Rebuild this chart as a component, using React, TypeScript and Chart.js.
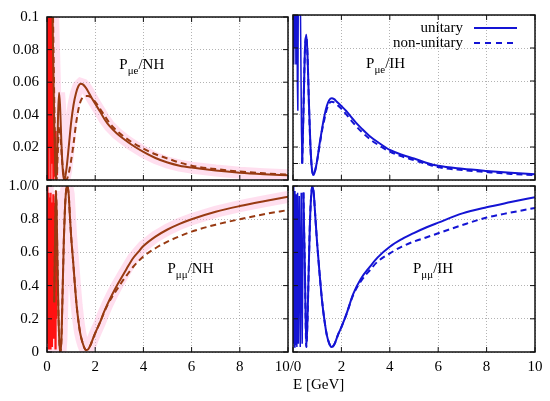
import React, { useEffect, useRef } from "react";
import { Chart, registerables } from "chart.js";

Chart.register(...registerables);

type Pt = [number, number];

// ---------- axis ticks ----------
const xTicks = [0, 2, 4, 6, 8, 10];
const xLabelsLeft = ["0", "2", "4", "6", "8", "10/0"];
const xLabelsRight = ["", "2", "4", "6", "8", "10"];
const yTicksTop = [0, 0.02, 0.04, 0.06, 0.08, 0.1];
const yTicksTopRight = [0, 0.01, 0.02, 0.04, 0.06, 0.08, 0.1];
const yLabelsTop = ["", "0.02", "0.04", "0.06", "0.08", "0.1"];
const yTicksBottom = [0, 0.2, 0.4, 0.6, 0.8, 1];
const yLabelsBottom = ["0", "0.2", "0.4", "0.6", "0.8", "1.0/0"];
const legendNames = ["unitary", "non-unitary"];

// ---------- P(mu->e), NH ----------
const peNhFast: Pt[] = [[0.0,0.0],[0.02,0.13],[0.04,0.01],[0.06,0.15],[0.08,0.0],[0.1,0.14],[0.12,0.02],[0.14,0.15],[0.16,0.0],[0.18,0.13],[0.2,0.01],[0.22,0.12],[0.25,0.0],[0.28,0.05],[0.31,0.002],[0.34,0.03],[0.37,0.0],[0.4,0.02],[0.43,0.003]];
const peNhUnitary: Pt[] = [[0.2,0.13],[0.25,0.08],[0.3,0.035],[0.34,0.008],[0.38,0.0],[0.42,0.014],[0.46,0.04],[0.5,0.0535],[0.54,0.046],[0.6,0.022],[0.66,0.005],[0.72,0.0],[0.8,0.006],[0.9,0.02],[1.0,0.035],[1.1,0.046],[1.2,0.053],[1.3,0.0575],[1.4,0.059],[1.5,0.0585],[1.6,0.0568],[1.7,0.0545],[1.85,0.0505],[2.0,0.0468],[2.2,0.042],[2.4,0.037],[2.6,0.033],[2.9,0.0285],[3.2,0.025],[3.5,0.0218],[4.0,0.0172],[4.5,0.0135],[5.0,0.0107],[5.5,0.0088],[6.0,0.0076],[7.0,0.0058],[8.0,0.0045],[9.0,0.0036],[10.0,0.0029]];
const peNhNonUnitary: Pt[] = [[0.25,0.1],[0.3,0.05],[0.35,0.012],[0.4,0.0],[0.45,0.018],[0.5,0.033],[0.55,0.03],[0.62,0.013],[0.7,0.003],[0.8,0.0],[0.9,0.004],[1.0,0.012],[1.1,0.022],[1.2,0.034],[1.3,0.043],[1.4,0.0485],[1.5,0.0508],[1.6,0.0515],[1.7,0.0515],[1.8,0.051],[1.9,0.0495],[2.0,0.048],[2.2,0.0437],[2.4,0.0392],[2.6,0.0348],[2.9,0.0302],[3.2,0.0265],[3.5,0.0234],[4.0,0.0193],[4.5,0.0158],[5.0,0.0132],[5.5,0.0107],[6.0,0.0088],[7.0,0.0067],[8.0,0.0052],[9.0,0.0041],[10.0,0.0033]];

// ---------- P(mu->e), IH ----------
const peIhFast: Pt[] = [[0.0,0.1],[0.02,0.16],[0.04,0.07],[0.06,0.16],[0.08,0.08],[0.1,0.16],[0.12,0.07],[0.15,0.16],[0.18,0.06],[0.2,0.042],[0.23,0.15],[0.27,0.16],[0.31,0.1],[0.35,0.03],[0.38,0.01]];
const peIhUnitary: Pt[] = [[0.38,0.01],[0.43,0.04],[0.49,0.078],[0.55,0.088],[0.6,0.076],[0.66,0.046],[0.72,0.021],[0.78,0.007],[0.85,0.003],[0.92,0.006],[1.0,0.012],[1.1,0.022],[1.2,0.031],[1.3,0.039],[1.4,0.045],[1.5,0.0485],[1.6,0.0495],[1.7,0.049],[1.8,0.0476],[1.9,0.0462],[2.0,0.0448],[2.2,0.0418],[2.4,0.0382],[2.6,0.0348],[2.85,0.031],[3.2,0.0262],[3.5,0.023],[4.0,0.0182],[4.5,0.0153],[5.0,0.013],[5.5,0.0105],[6.0,0.0086],[7.0,0.0068],[8.0,0.0055],[9.0,0.0044],[10.0,0.0035]];
const peIhNonUnitary: Pt[] = [[0.38,0.01],[0.43,0.04],[0.49,0.077],[0.55,0.087],[0.6,0.075],[0.66,0.045],[0.72,0.02],[0.78,0.007],[0.85,0.003],[0.92,0.006],[1.0,0.012],[1.1,0.021],[1.2,0.03],[1.3,0.037],[1.4,0.043],[1.5,0.0465],[1.6,0.0475],[1.7,0.047],[1.8,0.0458],[1.9,0.0445],[2.0,0.0432],[2.2,0.0398],[2.4,0.0362],[2.6,0.0328],[2.85,0.029],[3.2,0.0245],[3.5,0.0215],[4.0,0.0172],[4.5,0.0143],[5.0,0.012],[5.5,0.0098],[6.0,0.0078],[7.0,0.006],[8.0,0.0048],[9.0,0.0037],[10.0,0.0029]];

// ---------- P(mu->mu), NH ----------
const pmNhFast: Pt[] = [[0.0,1.0],[0.02,0.05],[0.04,0.92],[0.06,0.02],[0.08,0.96],[0.1,0.05],[0.12,0.93],[0.14,0.02],[0.16,0.96],[0.18,0.06],[0.2,0.9],[0.22,0.03],[0.25,0.95],[0.28,0.08],[0.31,0.9],[0.34,0.02],[0.37,0.97],[0.4,0.2]];
const pmNhUnitary: Pt[] = [[0.3,0.3],[0.34,0.75],[0.37,0.97],[0.4,0.85],[0.44,0.5],[0.48,0.2],[0.52,0.04],[0.56,0.0],[0.6,0.08],[0.65,0.38],[0.7,0.68],[0.75,0.88],[0.8,0.98],[0.84,1.0],[0.9,0.95],[0.95,0.82],[1.0,0.7],[1.09,0.535],[1.16,0.4],[1.23,0.28],[1.3,0.19],[1.37,0.12],[1.43,0.08],[1.5,0.045],[1.56,0.022],[1.62,0.012],[1.7,0.015],[1.8,0.04],[1.92,0.085],[2.05,0.13],[2.19,0.175],[2.35,0.235],[2.5,0.285],[2.7,0.345],[2.88,0.395],[3.1,0.45],[3.3,0.5],[3.57,0.565],[3.8,0.605],[4.0,0.638],[4.5,0.695],[5.0,0.738],[5.5,0.772],[6.0,0.8],[7.0,0.845],[8.0,0.879],[9.0,0.908],[10.0,0.935]];
const pmNhNonUnitary: Pt[] = [[0.3,0.3],[0.34,0.75],[0.37,0.97],[0.4,0.85],[0.44,0.5],[0.48,0.2],[0.52,0.04],[0.56,0.0],[0.6,0.08],[0.65,0.38],[0.7,0.68],[0.75,0.88],[0.8,0.98],[0.84,1.0],[0.9,0.95],[0.95,0.82],[1.0,0.7],[1.09,0.535],[1.16,0.4],[1.23,0.28],[1.3,0.19],[1.37,0.12],[1.43,0.08],[1.5,0.045],[1.56,0.022],[1.62,0.012],[1.7,0.015],[1.8,0.04],[1.92,0.085],[2.05,0.13],[2.19,0.175],[2.35,0.232],[2.5,0.28],[2.7,0.332],[2.88,0.372],[3.1,0.42],[3.3,0.46],[3.57,0.512],[4.0,0.575],[4.5,0.625],[5.0,0.665],[5.5,0.697],[6.0,0.725],[7.0,0.767],[8.0,0.8],[9.0,0.83],[10.0,0.855]];

// ---------- P(mu->mu), IH ----------
const pmIhFast: Pt[] = [[0.0,1.0],[0.02,0.05],[0.04,0.95],[0.06,0.03],[0.08,0.97],[0.1,0.04],[0.13,0.95],[0.16,0.03],[0.19,0.96],[0.22,0.05],[0.26,0.94],[0.3,0.03],[0.34,0.96],[0.38,0.05],[0.43,0.96]];
const pmIhUnitary: Pt[] = [[0.43,0.96],[0.49,0.5],[0.55,0.03],[0.6,0.2],[0.65,0.5],[0.7,0.78],[0.75,0.94],[0.8,1.0],[0.86,0.95],[0.92,0.82],[1.0,0.65],[1.1,0.47],[1.2,0.31],[1.3,0.19],[1.4,0.1],[1.5,0.05],[1.58,0.03],[1.66,0.035],[1.75,0.06],[1.85,0.1],[2.0,0.15],[2.2,0.225],[2.49,0.35],[2.8,0.44],[3.18,0.514],[3.5,0.57],[4.0,0.634],[4.5,0.68],[4.97,0.715],[5.5,0.75],[6.0,0.779],[7.0,0.835],[8.0,0.872],[9.0,0.903],[10.0,0.933]];
const pmIhNonUnitary: Pt[] = [[0.43,0.96],[0.49,0.5],[0.55,0.03],[0.6,0.2],[0.65,0.5],[0.7,0.78],[0.75,0.94],[0.8,1.0],[0.86,0.95],[0.92,0.82],[1.0,0.65],[1.1,0.47],[1.2,0.31],[1.3,0.19],[1.4,0.1],[1.5,0.05],[1.58,0.03],[1.66,0.035],[1.75,0.06],[1.85,0.1],[2.0,0.15],[2.2,0.224],[2.49,0.345],[2.8,0.425],[3.18,0.494],[3.5,0.545],[4.0,0.594],[4.5,0.635],[4.97,0.664],[5.5,0.69],[6.0,0.715],[7.0,0.765],[8.0,0.81],[9.0,0.84],[10.0,0.868]];

// ---------- styling ----------
const FONT = "'Liberation Serif', 'Times New Roman', serif";
const BROWN = "#983a12";
const RED = "#ff1212";
const BLUE = "#1414d4";
const PINK = "rgba(255,170,212,0.38)";
const GRID = "rgba(160,160,160,0.8)";
const W = 550;
const H = 401;

type Panel = {
  key: string;
  rect: { l: number; t: number; r: number; b: number };
  yMax: number;
  yTicks: number[];
  yLabels: string[] | null;
  xLabels: string[] | null;
  xTitle: string | null;
  fast: Pt[];
  solid: Pt[];
  dashed: Pt[];
  color: string;
  fastColor: string;
  band: boolean;
  label: { main: string; sub: string; tail: string; at: Pt };
  legend: boolean;
};

const panels: Panel[] = [
  {
    key: "tl", rect: { l: 47, t: 15, r: 288, b: 180 }, yMax: 0.1, yTicks: yTicksTop, yLabels: yLabelsTop,
    xLabels: null, xTitle: null, fast: peNhFast, solid: peNhUnitary, dashed: peNhNonUnitary,
    color: BROWN, fastColor: RED, band: true, label: { main: "P", sub: "μe", tail: "/NH", at: [3.0, 0.068] }, legend: false,
  },
  {
    key: "tr", rect: { l: 293, t: 15, r: 535, b: 180 }, yMax: 0.1, yTicks: yTicksTopRight, yLabels: null,
    xLabels: null, xTitle: null, fast: peIhFast, solid: peIhUnitary, dashed: peIhNonUnitary,
    color: BLUE, fastColor: BLUE, band: false, label: { main: "P", sub: "μe", tail: "/IH", at: [3.02, 0.068] }, legend: true,
  },
  {
    key: "bl", rect: { l: 47, t: 186, r: 288, b: 352 }, yMax: 1, yTicks: yTicksBottom, yLabels: yLabelsBottom,
    xLabels: xLabelsLeft, xTitle: null, fast: pmNhFast, solid: pmNhUnitary, dashed: pmNhNonUnitary,
    color: BROWN, fastColor: RED, band: true, label: { main: "P", sub: "μμ", tail: "/NH", at: [5.0, 0.476] }, legend: false,
  },
  {
    key: "br", rect: { l: 293, t: 186, r: 535, b: 352 }, yMax: 1, yTicks: yTicksBottom, yLabels: null,
    xLabels: xLabelsRight, xTitle: "E [GeV]", fast: pmIhFast, solid: pmIhUnitary, dashed: pmIhNonUnitary,
    color: BLUE, fastColor: BLUE, band: false, label: { main: "P", sub: "μμ", tail: "/IH", at: [4.96, 0.476] }, legend: false,
  },
];

const toXY = (pts: Pt[]) => pts.map(([x, y]) => ({ x, y }));

function framePlugin(p: Panel) {
  return {
    id: "frame_" + p.key,
    afterDatasetsDraw(chart: any) {
      const { ctx, chartArea, scales } = chart;
      const { left, top, right, bottom } = chartArea;
      const xs = scales.x;
      const ys = scales.y;
      ctx.save();
      ctx.strokeStyle = "#111";
      ctx.lineWidth = 1;
      ctx.beginPath();
      for (const v of xTicks) {
        const px = xs.getPixelForValue(v);
        ctx.moveTo(px, bottom); ctx.lineTo(px, bottom - 5);
        ctx.moveTo(px, top); ctx.lineTo(px, top + 5);
      }
      for (const v of p.yTicks) {
        const py = ys.getPixelForValue(v);
        ctx.moveTo(left, py); ctx.lineTo(left + 5, py);
        ctx.moveTo(right, py); ctx.lineTo(right - 5, py);
      }
      ctx.stroke();
      ctx.lineWidth = 1.5;
      ctx.strokeRect(left, top, right - left, bottom - top);
      const lx = xs.getPixelForValue(p.label.at[0]);
      const ly = ys.getPixelForValue(p.label.at[1]);
      ctx.fillStyle = "#000";
      ctx.textBaseline = "alphabetic";
      ctx.textAlign = "left";
      ctx.font = `15px ${FONT}`;
      ctx.fillText(p.label.main, lx, ly);
      const w1 = ctx.measureText(p.label.main).width;
      ctx.font = `11px ${FONT}`;
      ctx.fillText(p.label.sub, lx + w1, ly + 5);
      const w2 = ctx.measureText(p.label.sub).width;
      ctx.font = `15px ${FONT}`;
      ctx.fillText(p.label.tail, lx + w1 + w2, ly);
      if (p.legend) {
        const tx = right - 72;
        const l0 = right - 61;
        const l1 = right - 18;
        const rows = [top + 13, top + 28];
        ctx.textAlign = "right";
        ctx.textBaseline = "middle";
        ctx.font = `15px ${FONT}`;
        legendNames.forEach((name, i) => {
          ctx.fillStyle = "#000";
          ctx.fillText(name, tx, rows[i]);
          ctx.strokeStyle = p.color;
          ctx.lineWidth = 2;
          ctx.setLineDash(i === 0 ? [] : [6, 5]);
          ctx.beginPath();
          ctx.moveTo(l0, rows[i]);
          ctx.lineTo(l1, rows[i]);
          ctx.stroke();
        });
        ctx.setLineDash([]);
      }
      ctx.restore();
    },
  };
}

function makeConfig(p: Panel): any {
  const yW = p.yLabels ? 47 : 0;
  const xH = p.xLabels ? (p.xTitle ? 42 : 30) : 0;
  const padding = {
    left: p.rect.l - yW,
    top: p.rect.t,
    right: W - p.rect.r,
    bottom: H - p.rect.b - xH,
  };
  const common = { pointRadius: 0, pointHoverRadius: 0, fill: false, clip: 0 };
  const datasets: any[] = [
    { ...common, label: legendNames[0], data: toXY(p.solid), borderColor: p.color, borderWidth: 2, cubicInterpolationMode: "monotone", order: 1 },
    { ...common, label: legendNames[1], data: toXY(p.dashed), borderColor: p.color, borderWidth: 2, borderDash: [6, 4], cubicInterpolationMode: "monotone", order: 2 },
    { ...common, label: "fast", data: toXY(p.fast), borderColor: p.fastColor, borderWidth: 1.5, tension: 0, order: 3 },
  ];
  if (p.band) {
    datasets.push({ ...common, label: "band", data: toXY([...p.fast, ...p.solid]), borderColor: PINK, borderWidth: 12, tension: 0, order: 4 });
  }
  const tickFont = { family: FONT, size: 15 };
  return {
    type: "line",
    data: { datasets },
    options: {
      responsive: false,
      animation: false,
      events: [],
      layout: { padding },
      plugins: { legend: { display: false }, tooltip: { enabled: false }, title: { display: false } },
      scales: {
        x: {
          type: "linear",
          min: 0,
          max: 10,
          afterBuildTicks: (s: any) => { s.ticks = xTicks.map((v) => ({ value: v })); },
          afterFit: (s: any) => { s.height = xH; },
          ticks: {
            display: !!p.xLabels,
            autoSkip: false,
            maxRotation: 0,
            padding: 6,
            color: "#000",
            font: tickFont,
            callback: (_v: any, i: number) => (p.xLabels ? p.xLabels[i] : ""),
          },
          grid: { color: GRID, lineWidth: 1, drawTicks: false },
          border: { display: false, dash: [1, 2] },
          title: p.xTitle
            ? { display: true, text: p.xTitle, align: "start", color: "#000", font: tickFont, padding: { top: 0, bottom: 0 } }
            : { display: false },
        },
        y: {
          type: "linear",
          min: 0,
          max: p.yMax,
          afterBuildTicks: (s: any) => { s.ticks = p.yTicks.map((v) => ({ value: v })); },
          afterFit: (s: any) => { s.width = yW; },
          ticks: {
            display: !!p.yLabels,
            autoSkip: false,
            padding: 8,
            color: "#000",
            font: tickFont,
            callback: (_v: any, i: number) => (p.yLabels ? p.yLabels[i] : ""),
          },
          grid: { color: GRID, lineWidth: 1, drawTicks: false },
          border: { display: false, dash: [1, 2] },
        },
      },
    },
    plugins: [framePlugin(p)],
  };
}

export default function App() {
  const r0 = useRef<HTMLCanvasElement>(null);
  const r1 = useRef<HTMLCanvasElement>(null);
  const r2 = useRef<HTMLCanvasElement>(null);
  const r3 = useRef<HTMLCanvasElement>(null);
  const refs = [r0, r1, r2, r3];

  useEffect(() => {
    const charts = panels.map((p, i) => new Chart(refs[i].current as HTMLCanvasElement, makeConfig(p)));
    return () => charts.forEach((c) => c.destroy());
  }, []);

  return (
    <div style={{ position: "fixed", left: 0, top: 0, width: W, height: H, background: "#fff" }}>
      {panels.map((p, i) => (
        <canvas
          key={p.key}
          ref={refs[i]}
          width={W}
          height={H}
          style={{ position: "absolute", left: 0, top: 0, width: W, height: H }}
        />
      ))}
    </div>
  );
}
